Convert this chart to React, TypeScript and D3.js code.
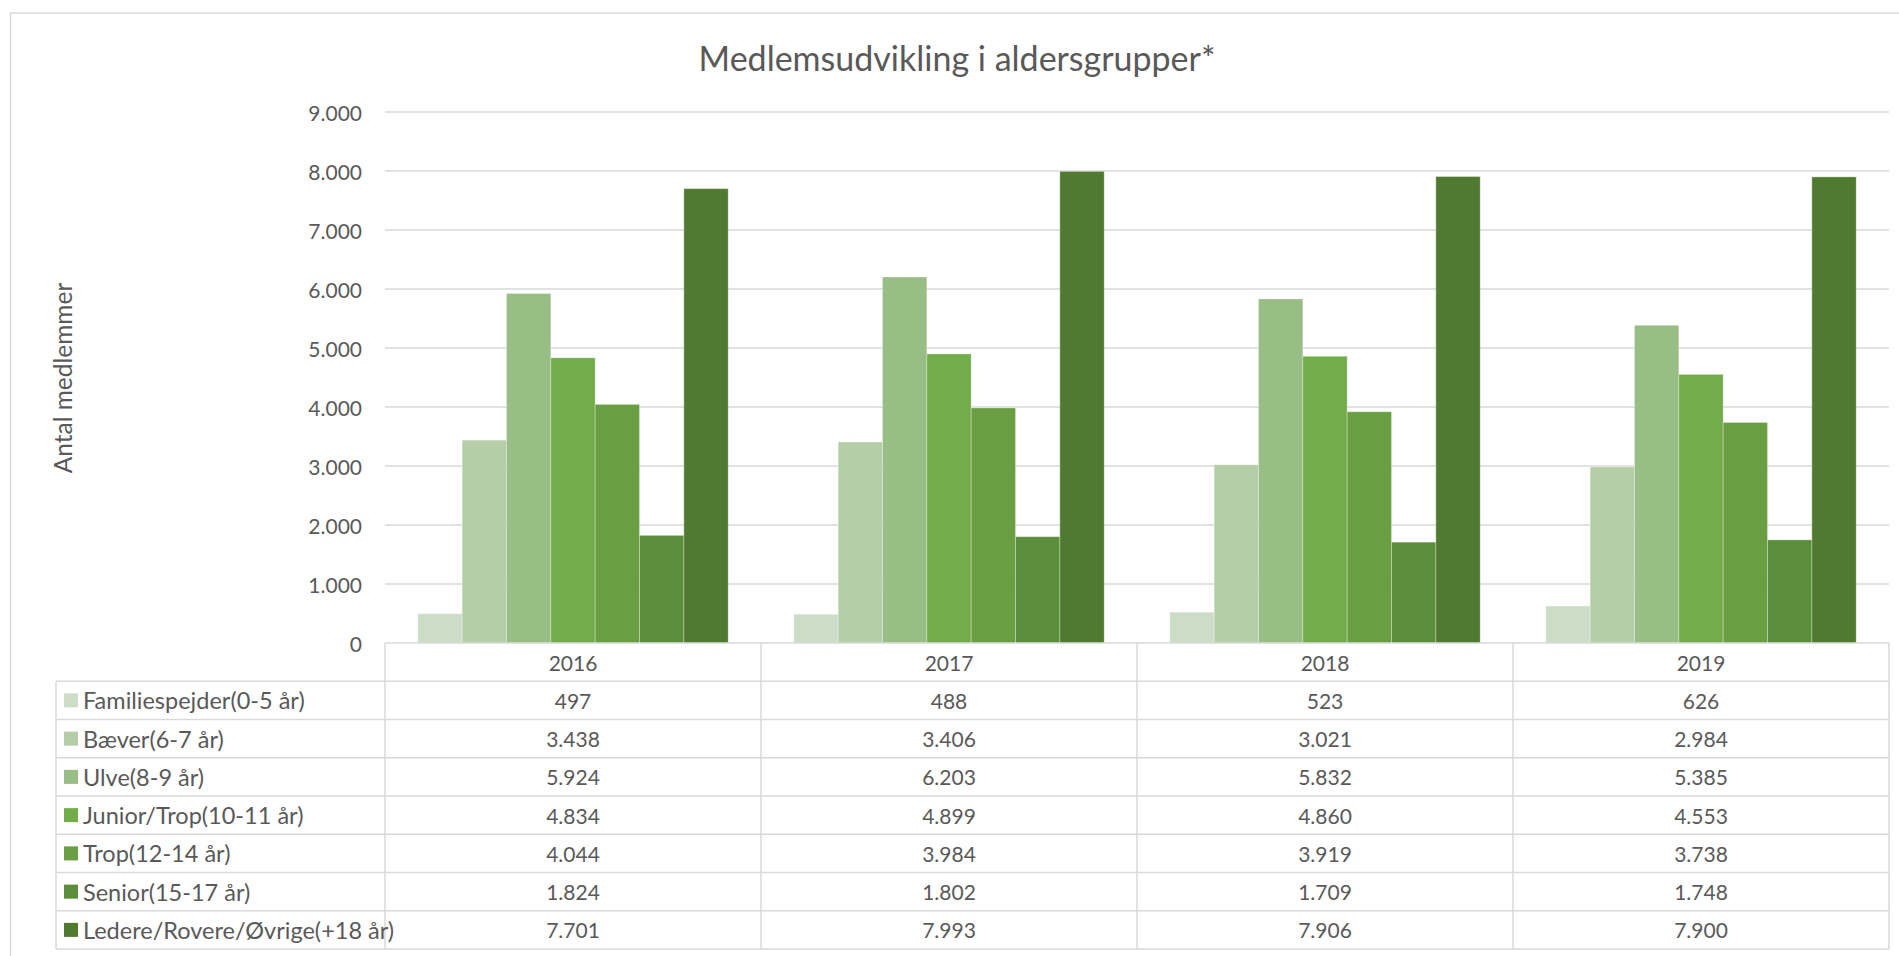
import { useEffect, useRef } from "react";
import * as d3 from "d3";

// data
const years = ["2016", "2017", "2018", "2019"];
const seriesNames = [
  "Familiespejder(0-5 år)",
  "Bæver(6-7 år)",
  "Ulve(8-9 år)",
  "Junior/Trop(10-11 år)",
  "Trop(12-14 år)",
  "Senior(15-17 år)",
  "Ledere/Rovere/Øvrige(+18 år)",
];
const familiespejder = [497, 488, 523, 626];
const baever = [3438, 3406, 3021, 2984];
const ulve = [5924, 6203, 5832, 5385];
const junior = [4834, 4899, 4860, 4553];
const trop = [4044, 3984, 3919, 3738];
const senior = [1824, 1802, 1709, 1748];
const ledere = [7701, 7993, 7906, 7900];
const yTicks = [0, 1000, 2000, 3000, 4000, 5000, 6000, 7000, 8000, 9000];

const colors = ["#cddcc7", "#b5cea8", "#98bd85", "#72ac4b", "#699f42", "#5b8d3a", "#4f7a30"];

const W = 1899;
const H = 956;
const FONT = "Lato, 'Open Sans', sans-serif";
const TEXT = "#595959";
const LINE = "#d9d9d9";

const App = () => {
  const ref = useRef<SVGSVGElement | null>(null);

  useEffect(() => {
    document.body.style.margin = "0";
    const values = [familiespejder, baever, ulve, junior, trop, senior, ledere];
    const svg = d3.select(ref.current);
    svg.selectAll("*").remove();

    const fmt = d3.formatLocale({
      decimal: ",",
      thousands: ".",
      grouping: [3],
      currency: ["", " kr."],
    }).format(",");

    const plotLeft = 385;
    const plotRight = 1889;
    const y = d3.scaleLinear().domain([0, 9000]).range([643, 112]);
    const x0 = d3.scaleBand().domain(years).range([plotLeft, plotRight]).padding(0);
    const x1 = d3
      .scaleBand()
      .domain(seriesNames)
      .range([0, x0.bandwidth()])
      .paddingInner(0)
      .paddingOuter(0.74);
    const rows = d3
      .scaleBand()
      .domain(["header", ...seriesNames])
      .range([643, 949]);

    // outer border
    svg
      .append("rect")
      .attr("x", 10.5)
      .attr("y", 13)
      .attr("width", W)
      .attr("height", H)
      .attr("fill", "#fff")
      .attr("stroke", LINE)
      .attr("stroke-width", 1.5);

    // title
    svg
      .append("text")
      .attr("x", 957)
      .attr("y", 57)
      .attr("text-anchor", "middle")
      .attr("dominant-baseline", "central")
      .style("font-family", FONT)
      .style("font-size", "34px")
      .style("fill", TEXT)
      .text("Medlemsudvikling i aldersgrupper*");

    // gridlines + tick labels
    svg
      .append("g")
      .selectAll("line")
      .data(yTicks.filter((d) => d > 0))
      .enter()
      .append("line")
      .attr("x1", plotLeft)
      .attr("x2", plotRight)
      .attr("y1", (d) => y(d))
      .attr("y2", (d) => y(d))
      .attr("stroke", LINE)
      .attr("stroke-width", 1.5);

    svg
      .append("g")
      .selectAll("text")
      .data(yTicks)
      .enter()
      .append("text")
      .attr("x", 362)
      .attr("y", (d) => y(d))
      .attr("text-anchor", "end")
      .attr("dominant-baseline", "central")
      .style("font-family", FONT)
      .style("font-size", "21px")
      .style("fill", TEXT)
      .text((d) => fmt(d));

    // axis title
    svg
      .append("text")
      .attr("transform", "translate(62,378) rotate(-90)")
      .attr("text-anchor", "middle")
      .attr("dominant-baseline", "central")
      .style("font-family", FONT)
      .style("font-size", "24.5px")
      .style("fill", TEXT)
      .text("Antal medlemmer");

    // bars
    const groups = svg
      .append("g")
      .selectAll("g")
      .data(years)
      .enter()
      .append("g")
      .attr("transform", (d) => `translate(${x0(d)},0)`);

    groups
      .selectAll("rect")
      .data((d, i) => seriesNames.map((s, j) => ({ s, j, v: values[j][i] })))
      .enter()
      .append("rect")
      .attr("x", (d) => x1(d.s))
      .attr("y", (d) => y(d.v))
      .attr("width", x1.bandwidth())
      .attr("height", (d) => y(0) - y(d.v))
      .attr("fill", (d) => colors[d.j])
      .attr("stroke", "rgba(255,255,255,0.3)")
      .attr("stroke-width", 1);

    // data table
    const table = svg.append("g");
    const tableLeft = 56;
    const tableBottom = rows.range()[1];

    // horizontal lines
    rows.domain().forEach((r) => {
      const yy = rows(r);
      table
        .append("line")
        .attr("x1", r === "header" ? plotLeft : tableLeft)
        .attr("x2", plotRight)
        .attr("y1", yy)
        .attr("y2", yy)
        .attr("stroke", LINE)
        .attr("stroke-width", 1.5);
    });
    table
      .append("line")
      .attr("x1", tableLeft)
      .attr("x2", plotRight)
      .attr("y1", tableBottom)
      .attr("y2", tableBottom)
      .attr("stroke", LINE)
      .attr("stroke-width", 1.5);

    // vertical lines
    table
      .append("line")
      .attr("x1", tableLeft)
      .attr("x2", tableLeft)
      .attr("y1", rows(seriesNames[0]))
      .attr("y2", tableBottom)
      .attr("stroke", LINE)
      .attr("stroke-width", 1.5);
    [...years.map((d) => x0(d)), plotRight].forEach((xx) => {
      table
        .append("line")
        .attr("x1", xx)
        .attr("x2", xx)
        .attr("y1", rows("header"))
        .attr("y2", tableBottom)
        .attr("stroke", LINE)
        .attr("stroke-width", 1.5);
    });

    // header years
    table
      .selectAll("text.year")
      .data(years)
      .enter()
      .append("text")
      .attr("class", "year")
      .attr("x", (d) => x0(d) + x0.bandwidth() / 2)
      .attr("y", rows("header") + rows.bandwidth() / 2)
      .attr("text-anchor", "middle")
      .attr("dominant-baseline", "central")
      .style("font-family", FONT)
      .style("font-size", "21px")
      .style("fill", TEXT)
      .text((d) => d);

    // legend column
    seriesNames.forEach((s, j) => {
      const cy = rows(s) + rows.bandwidth() / 2;
      table
        .append("rect")
        .attr("x", 64)
        .attr("y", cy - 7)
        .attr("width", 14)
        .attr("height", 14)
        .attr("fill", colors[j]);
      table
        .append("text")
        .attr("x", 83)
        .attr("y", cy)
        .attr("dominant-baseline", "central")
        .style("font-family", FONT)
        .style("font-size", "23.5px")
        .style("fill", TEXT)
        .text(s);

      years.forEach((yr, i) => {
        table
          .append("text")
          .attr("x", x0(yr) + x0.bandwidth() / 2)
          .attr("y", cy)
          .attr("text-anchor", "middle")
          .attr("dominant-baseline", "central")
          .style("font-family", FONT)
          .style("font-size", "21px")
          .style("fill", TEXT)
          .text(fmt(values[j][i]));
      });
    });
  }, []);

  return <svg ref={ref} width={W} height={H} style={{ display: "block" }}></svg>;
};

export default App;
